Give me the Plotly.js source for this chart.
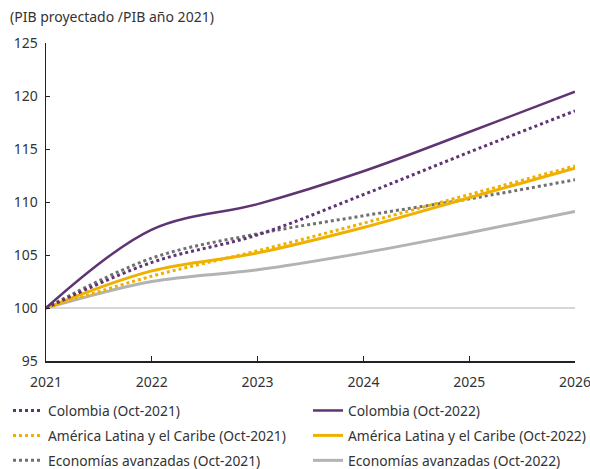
<!DOCTYPE html>
<html>
<head>
<meta charset="utf-8">
<script src="https://cdn.plot.ly/plotly-3.0.1.min.js"></script>
<style>html,body{margin:0;padding:0;background:#fff;}#chart{width:590px;height:469px;}</style>
</head>
<body>
<div id="chart"></div>
<script>
var years = [2021, 2022, 2023, 2024, 2025, 2026];
var colombia2021 = [100, 104.3, 106.9, 110.7, 114.7, 118.6];
var colombia2022 = [100, 107.4, 109.8, 112.9, 116.6, 120.4];
var alc2021 = [100, 103.0, 105.4, 108.0, 110.7, 113.4];
var alc2022 = [100, 103.5, 105.2, 107.6, 110.4, 113.2];
var avanz2021 = [100, 104.7, 107.0, 108.7, 110.3, 112.1];
var avanz2022 = [100, 102.5, 103.6, 105.2, 107.1, 109.1];
var baseline = 100;
var yTicks = [95, 100, 105, 110, 115, 120, 125];

var PURPLE = '#5e3473', YELLOW = '#efb000', GRAY_D = '#707070', GRAY_S = '#b3b3b3';
var FONT = 'Noto Sans, sans-serif';

function tr(name, y, color, dash, width, legend, rank) {
  return {x: years, y: y, name: name, type: 'scatter', mode: 'lines',
    line: {color: color, dash: dash, width: width, shape: 'spline', smoothing: 1},
    legend: legend, legendrank: rank, legendgroup: name, hoverinfo: 'skip'};
}

var data = [
  tr('Economías avanzadas (Oct-2022)', avanz2022, GRAY_S, 'solid', 3, 'legend2', 3),
  tr('Economías avanzadas (Oct-2021)', avanz2021, GRAY_D, 'dot', 3, 'legend', 3),
  tr('América Latina y el Caribe (Oct-2021)', alc2021, YELLOW, 'dot', 3, 'legend', 2),
  tr('América Latina y el Caribe (Oct-2022)', alc2022, YELLOW, 'solid', 3, 'legend2', 2),
  tr('Colombia (Oct-2021)', colombia2021, PURPLE, 'dot', 3, 'legend', 1),
  tr('Colombia (Oct-2022)', colombia2022, PURPLE, 'solid', 2.5, 'legend2', 1)
];

var legendCommon = {orientation: 'v', xref: 'container', yref: 'container',
  yanchor: 'top', y: 1 - 395/469, xanchor: 'left',
  font: {family: FONT, size: 13.8, color: '#333'}, bgcolor: 'rgba(0,0,0,0)',
  tracegroupgap: 4, itemwidth: 30};

var layout = {
  width: 590, height: 469,
  margin: {l: 46, r: 15, t: 43, b: 108, autoexpand: false},
  paper_bgcolor: '#fff', plot_bgcolor: '#fff',
  font: {family: FONT, size: 14, color: '#333'},
  title: {text: '(PIB proyectado /PIB año 2021)', xref: 'container', yref: 'container',
    x: 10/590, xanchor: 'left', y: 1 - 17/469, yanchor: 'middle',
    font: {family: FONT, size: 14, color: '#333'}},
  xaxis: {range: [2021, 2026], tickvals: years, ticktext: years.map(String),
    showgrid: false, zeroline: false, showline: true, linecolor: '#222', linewidth: 1.5,
    ticks: 'inside', ticklen: 5, tickcolor: '#222', ticklabelstandoff: 8,
    ticklabeloverflow: 'allow',
    tickfont: {family: FONT, size: 14, color: '#333'}},
  yaxis: {range: [95, 125], tickvals: yTicks, showgrid: false, zeroline: false,
    showline: true, linecolor: '#222', linewidth: 1.5, ticks: 'inside', ticklen: 4,
    tickcolor: '#222', ticklabelstandoff: 4,
    tickfont: {family: FONT, size: 14, color: '#333'}},
  shapes: [{type: 'line', xref: 'x', yref: 'y', x0: years[0], x1: years[years.length-1],
    y0: baseline, y1: baseline, line: {color: '#d6d6d6', width: 2}, layer: 'below'}],
  legend: Object.assign({}, legendCommon, {x: 8/590}),
  legend2: Object.assign({}, legendCommon, {x: 308/590}),
  showlegend: true
};

Plotly.newPlot('chart', data, layout, {displayModeBar: false, staticPlot: true});
</script>
</body>
</html>
